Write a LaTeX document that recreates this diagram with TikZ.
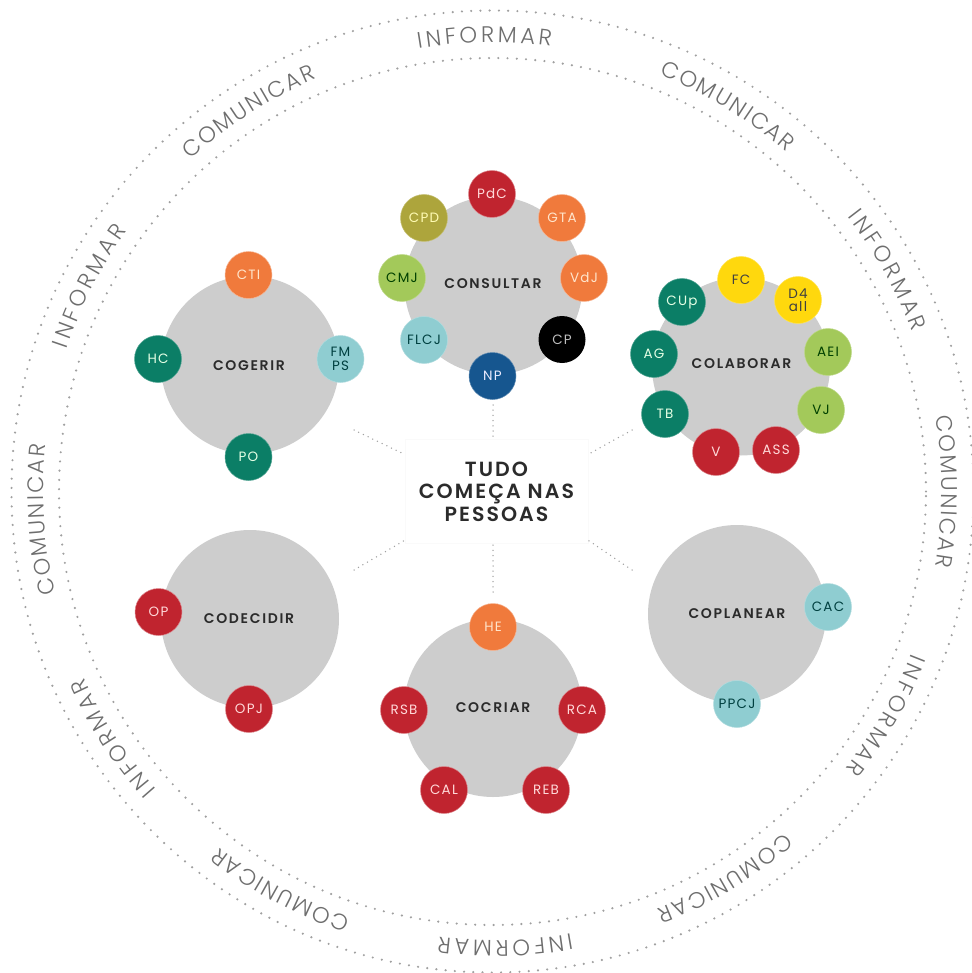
\documentclass[tikz,border=0pt]{standalone}
\usepackage{fontspec}
\setmainfont{Poppins}
\newfontfamily\ringfont{Poppins Light}
\newfontfamily\labelfamily[LetterSpace=9]{Poppins}
\newfontfamily\headfamily[LetterSpace=12]{Poppins SemiBold}
\newfontfamily\bigfamily[LetterSpace=10]{Poppins SemiBold}
\definecolor{cred}{HTML}{C0242F}
\definecolor{corange}{HTML}{F07A3C}
\definecolor{cdgreen}{HTML}{0B7E66}
\definecolor{clteal}{HTML}{8FCDD1}
\definecolor{clgreen}{HTML}{A3C95A}
\definecolor{colive}{HTML}{ADA53C}
\definecolor{cyellow}{HTML}{FFD80D}
\definecolor{cblue}{HTML}{16568F}
\definecolor{cgray}{HTML}{CDCDCD}
\definecolor{cdots}{HTML}{A0A0A0}
\definecolor{cring}{HTML}{6E6E6E}
\definecolor{chead}{HTML}{2B2B2B}
\tikzset{
  ball/.style={circle,minimum size=47pt,inner sep=0pt,align=center,font=\labelfamily\fontsize{13.5}{13.5}\selectfont},
  redball/.style={ball,fill=cred,text=red!15!white,draw=cred!55!white,line width=.5pt},
  orangeball/.style={ball,fill=corange,text=orange!20!white,draw=corange!55!white,line width=.5pt},
  greenball/.style={ball,fill=cdgreen,text=green!10!white,draw=cdgreen!70!white,line width=.5pt},
  tealball/.style={ball,fill=clteal,text=teal!50!black,draw=clteal!70!white,line width=.5pt},
  limeball/.style={ball,fill=clgreen,text=green!25!black,draw=clgreen!70!white,line width=.5pt},
  oliveball/.style={ball,fill=colive,text=yellow!30!white,draw=colive!70!white,line width=.5pt},
  yellowball/.style={ball,fill=cyellow,text=black!75,draw=cyellow!70!white,line width=.5pt},
  blueball/.style={ball,fill=cblue,text=blue!8!white,draw=cblue!70!white,line width=.5pt},
  blackball/.style={ball,fill=black,text=black!25!white},
  disc/.style={circle,fill=cgray,minimum size=178pt,inner sep=0pt},
  head/.style={inner sep=0pt,text=chead,font=\headfamily\fontsize{14}{14}\selectfont},
  ringdots/.style={circle,inner sep=0pt,draw=cdots,line width=2.4pt,line cap=round,dash pattern=on 0pt off 9.25pt},
  linkdots/.style={draw=cdots,line width=1.5pt,line cap=round,dash pattern=on 0pt off 5.2pt},
  ringletter/.style={inner sep=0pt,anchor=base,text=cring,font=\ringfont\fontsize{22.5}{23}\selectfont},
  centrebox/.style={rectangle,draw=black!2,line width=.5pt,minimum width=183pt,minimum height=104pt,inner sep=0pt,align=center,text=chead,font=\bigfamily\fontsize{20.5}{22.5}\selectfont},
}
\newdimen\ringpos
\newbox\ringbox
\newcommand\ringR{449}
\newcommand\ringmeasure[1]{\setbox\ringbox\hbox{\pgfinterruptpicture\ringfont\fontsize{22.5}{23}\selectfont#1\endpgfinterruptpicture}}
% #1 name, #2 letters, #3 centre angle, #4 tracking
\newcommand\ringword[4]{%
  \global\ringpos=0pt
  \foreach \c in {#2}{%
    \ringmeasure{\c}%
    \global\advance\ringpos by \wd\ringbox
    \global\advance\ringpos by #4pt
  }%
  \pgfmathsetmacro\ringstart{#3+(\the\ringpos/2)/\ringR*180/pi}%
  \global\ringpos=0pt
  \foreach \c [count=\i] in {#2}{%
    \ringmeasure{\c}%
    \pgfmathsetmacro\ringa{\ringstart-(\the\ringpos+\the\wd\ringbox/2+#4/2)/\ringR*180/pi}%
    \node[ringletter,rotate=\ringa-90] (#1\i) at ({492.5+\ringR*cos(\ringa)},{491.5-\ringR*sin(\ringa)}) {\c};
    \global\advance\ringpos by \wd\ringbox
    \global\advance\ringpos by #4pt
  }%
}
\newcommand\informar{I,N,F,O,R,M,A,R}
\newcommand\comunicar{C,O,M,U,N,I,C,A,R}
\begin{document}
\begin{tikzpicture}[x=1pt,y=-1pt]
\useasboundingbox (0,0) rectangle (971,973);
\fill[white] (0,0) rectangle (971,973);

% dotted rings
\node[ringdots,minimum size=962pt] (outerring) at (492.5,491.5) {};
\node[ringdots,minimum size=867pt] (innerring) at (492.5,491.5) {};

% ring words
\ringword{wa}{I,N,F,O,R,M,A,R}{91}{3.4}
\ringword{wb}{C,O,M,U,N,I,C,A,R}{58.6}{1.9}
\ringword{wc}{I,N,F,O,R,M,A,R}{29.3}{3.4}
\ringword{wd}{C,O,M,U,N,I,C,A,R}{0}{1.9}
\ringword{we}{I,N,F,O,R,M,A,R}{-29.7}{3.4}
\ringword{wf}{C,O,M,U,N,I,C,A,R}{-59}{1.9}
\ringword{wg}{I,N,F,O,R,M,A,R}{-88.4}{3.4}
\ringword{wh}{C,O,M,U,N,I,C,A,R}{-118}{1.9}
\ringword{wi}{I,N,F,O,R,M,A,R}{-147}{3.4}
\ringword{wj}{C,O,M,U,N,I,C,A,R}{183.6}{1.9}
\ringword{wk}{I,N,F,O,R,M,A,R}{153}{3.4}
\ringword{wl}{C,O,M,U,N,I,C,A,R}{122.7}{1.9}

% centre
\node[centrebox] (centre) at (496.5,491.5) {TUDO\\COMEÇA NAS\\PESSOAS};

% connectors
\coordinate (e1) at (354,430);
\coordinate (e2) at (493,405);
\coordinate (e3) at (632,430);
\coordinate (e4) at (354,570);
\coordinate (e5) at (493,592);
\coordinate (e6) at (632,570);
\draw[linkdots] (e1) -- (centre.158);
\draw[linkdots] (e2) -- (centre.north -| e2);
\draw[linkdots] (e3) -- (centre.22);
\draw[linkdots] (e4) -- (centre.208);
\draw[linkdots] (e5) -- (centre.south -| e5);
\draw[linkdots] (e6) -- (centre.332);

% big discs
\node[disc] (dconsultar) at (493.5,285.5) {};
\node[disc] (dcogerir) at (250,365) {};
\node[disc] (dcolaborar) at (741,366.5) {};
\node[disc] (dcodecidir) at (250,619) {};
\node[disc] (dcocriar) at (493,708) {};
\node[disc] (dcoplanear) at (737,614) {};
\node[head] (lconsultar) at (493,284) {CONSULTAR};
\node[head] (lcogerir) at (249,366) {COGERIR};
\node[head] (lcolaborar) at (741.5,364) {COLABORAR};
\node[head] (lcodecidir) at (249,618.5) {CODECIDIR};
\node[head] (lcocriar) at (493,708) {COCRIAR};
\node[head] (lcoplanear) at (737,613.5) {COPLANEAR};

% consultar
\node[redball] (pdc) at (492,194) {PdC};
\node[orangeball] (gta) at (562,218) {GTA};
\node[orangeball] (vdj) at (584,278) {VdJ};
\node[blackball] (cp) at (562,339.5) {CP};
\node[blueball] (np) at (492.5,376) {NP};
\node[tealball] (flcj) at (424,340) {FLCJ};
\node[limeball] (cmj) at (402,278) {CMJ};
\node[oliveball] (cpd) at (424,218) {CPD};

% cogerir
\node[orangeball] (cti) at (248.5,275) {CTI};
\node[greenball] (hc) at (158,359) {HC};
\node[tealball] (fmps) at (340.5,359) {FM\\PS};
\node[greenball] (po) at (248.5,457) {PO};

% colaborar
\node[yellowball] (fc) at (741,280) {FC};
\node[yellowball] (dall) at (798,300) {D4\\all};
\node[limeball] (aei) at (828,352) {AEI};
\node[limeball] (vj) at (821,410) {VJ};
\node[redball] (ass) at (776,450) {ASS};
\node[redball] (v) at (716,452) {V};
\node[greenball] (tb) at (665,414) {TB};
\node[greenball] (ag) at (654,354) {AG};
\node[greenball] (cup) at (682,302) {CUp};

% codecidir
\node[redball] (op) at (158.5,612) {OP};
\node[redball] (opj) at (249,709) {OPJ};

% cocriar
\node[orangeball] (he) at (493,627) {HE};
\node[redball] (rca) at (582,710) {RCA};
\node[redball] (reb) at (546,790) {REB};
\node[redball] (cal) at (444,790) {CAL};
\node[redball] (rsb) at (404,710) {RSB};

% coplanear
\node[tealball] (cac) at (828,607) {CAC};
\node[tealball] (ppcj) at (737,704) {PPCJ};
\end{tikzpicture}
\end{document}
